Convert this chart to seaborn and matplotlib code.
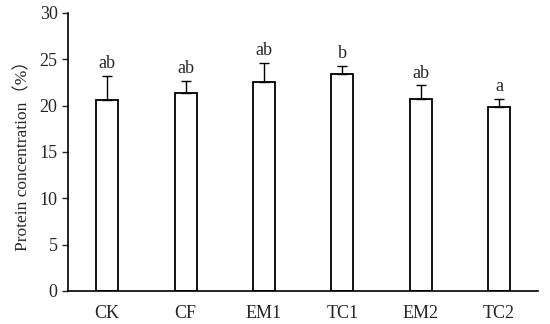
import pandas as pd
import numpy as np
import matplotlib
matplotlib.use('Agg')
import matplotlib.pyplot as plt
import seaborn as sns

# data
groups = ['CK', 'CF', 'EM1', 'TC1', 'EM2', 'TC2']
protein = [20.6, 21.4, 22.5, 23.4, 20.7, 19.9]
sd = [2.6, 1.3, 2.1, 0.9, 1.5, 0.8]
letters = ['ab', 'ab', 'ab', 'b', 'ab', 'a']

df = pd.DataFrame({'group': groups, 'protein': protein, 'sd': sd})

sns.set_style('ticks')
plt.rcParams['font.family'] = ['Liberation Serif', 'Noto Sans CJK SC']

fig = plt.figure(figsize=(5.5, 3.24), dpi=100)
ax = fig.add_axes([0.1236, 0.102, 0.855, 0.858])

sns.barplot(data=df, x='group', y='protein', color='white',
            edgecolor='black', linewidth=1.3, width=0.28, ax=ax)

# upper error bars only
x = np.arange(len(groups))
ax.errorbar(x, df['protein'], yerr=[np.zeros(len(sd)), df['sd']],
            fmt='none', ecolor='black', elinewidth=1.0, capsize=3.5, capthick=1.0)

# significance letters
for xi, val, err, lab in zip(x, protein, sd, letters):
    ax.text(xi, val + err + 0.4, lab, ha='center', va='bottom', fontsize=13)

ax.set_ylim(0, 30)
ax.set_yticks(range(0, 31, 5))
ax.set_xlim(-0.5, len(groups) - 0.5)
ax.set_xlabel('')
ax.set_ylabel('Protein concentration（%）', fontsize=12.5, labelpad=6)
ax.tick_params(axis='y', direction='out', length=4, width=1, labelsize=13)
ax.tick_params(axis='x', length=0, labelsize=13, pad=10)
sns.despine(ax=ax)
for s in ['left', 'bottom']:
    ax.spines[s].set_linewidth(1.2)
    ax.spines[s].set_color('black')

fig.savefig('out.png', dpi=100)
